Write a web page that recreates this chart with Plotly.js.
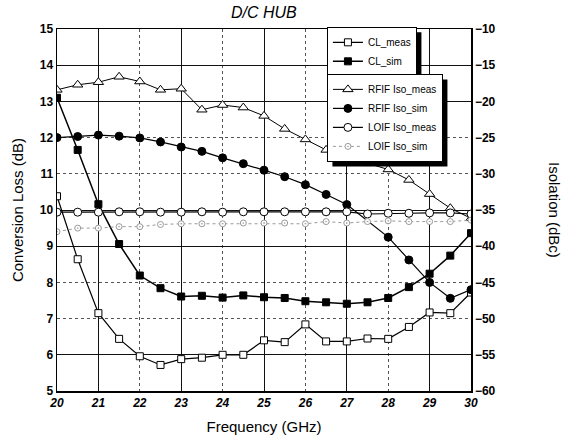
<!DOCTYPE html>
<html>
<head>
<meta charset="utf-8">
<script src="https://cdn.plot.ly/plotly-3.0.1.min.js"></script>
<style>body{margin:0;padding:0;background:#fff}#chart{width:576px;height:446px}</style>
</head>
<body>
<div id="chart"></div>
<script>
// Frequency points (GHz)
const freq = [20,20.5,21,21.5,22,22.5,23,23.5,24,24.5,25,25.5,26,26.5,27,27.5,28,28.5,29,29.5,30];
const freqRfifSim = [20,20.5,21,21.5,22,22.5,23,23.5,24,24.5,25,25.5,26,26.5,27,28,28.5,29,29.5,30];

// Conversion loss (dB), left axis
const clMeas = [10.38,8.64,7.15,6.44,5.96,5.72,5.88,5.92,6.0,6.0,6.4,6.35,6.84,6.37,6.37,6.45,6.44,6.77,7.17,7.15,7.72];
const clSim  = [13.1,11.66,10.16,9.06,8.19,7.84,7.61,7.63,7.58,7.64,7.59,7.57,7.48,7.45,7.41,7.45,7.57,7.87,8.24,8.74,9.36];

// Isolation (dBc), right axis
const rfifMeas = [-18.4,-17.7,-17.35,-16.6,-17.25,-18.4,-18.25,-21.15,-20.5,-20.85,-22.0,-23.8,-25.25,-26.7,-28.0,-28.55,-29.4,-30.85,-32.8,-34.75,-36.15];
const rfifSim  = [-25.0,-24.85,-24.65,-24.8,-25.05,-25.6,-26.3,-26.9,-27.8,-28.6,-29.5,-30.4,-31.5,-32.85,-34.25,-38.75,-41.9,-45.0,-47.2,-46.0];
const loifMeas = [-35.3,-35.3,-35.3,-35.25,-35.25,-35.3,-35.3,-35.25,-35.3,-35.25,-35.25,-35.25,-35.25,-35.25,-35.25,-35.55,-35.45,-35.45,-35.4,-35.4,-35.55];
const loifSim  = [-38.0,-37.5,-37.5,-37.3,-37.3,-37.0,-36.9,-36.9,-36.9,-36.8,-36.8,-36.8,-36.9,-36.6,-36.8,-36.6,-36.5,-36.6,-36.6,-36.6,-36.4];

// Axis ticks
const xTicks = [20,21,22,23,24,25,26,27,28,29,30];
const yLeftTicks = [5,6,7,8,9,10,11,12,13,14,15];
const yRightTicks = [-60,-55,-50,-45,-40,-35,-30,-25,-20,-15,-10];
const xSolidGrid = [21,23,25,27,29];
const ySolidGrid = [6,9,10,13,14];

const FONT = 'Liberation Sans, Arial, sans-serif';
const mk = (sym, fill, size, lc) => ({symbol: sym, size: size, color: fill, line: {color: lc || '#000', width: 1}});

const traces = [
  {x: freq, y: clMeas, name: 'CL_meas', mode: 'lines+markers', line: {color: '#000', width: 1.2},
   marker: mk('square', '#fff', 7), legend: 'legend', xaxis: 'x', yaxis: 'y'},
  {x: freq, y: clSim, name: 'CL_sim', mode: 'lines+markers', line: {color: '#000', width: 1.5},
   marker: mk('square', '#000', 7), legend: 'legend', xaxis: 'x', yaxis: 'y'},
  {x: freq, y: rfifMeas, name: 'RFIF Iso_meas', mode: 'lines+markers', line: {color: '#000', width: 1},
   marker: mk('triangle-up', '#fff', 9), legend: 'legend2', xaxis: 'x', yaxis: 'y2'},
  {x: freqRfifSim, y: rfifSim, name: 'RFIF Iso_sim', mode: 'lines+markers', line: {color: '#000', width: 1.2},
   marker: mk('circle', '#000', 8), legend: 'legend2', xaxis: 'x', yaxis: 'y2'},
  {x: freq, y: loifMeas, name: 'LOIF Iso_meas', mode: 'lines+markers', line: {color: '#000', width: 1.2},
   marker: mk('circle', '#fff', 8), legend: 'legend2', xaxis: 'x', yaxis: 'y2'},
  {x: freq, y: loifSim, name: 'LOIF Iso_sim', mode: 'lines+markers', line: {color: '#999', width: 1, dash: 'dot'},
   marker: mk('circle-dot', '#fff', 6, '#999'), legend: 'legend2', xaxis: 'x', yaxis: 'y2'},
  // carriers for the solid grid axes
  {x: [null], y: [null], xaxis: 'x3', yaxis: 'y', showlegend: false, hoverinfo: 'skip'},
  {x: [null], y: [null], xaxis: 'x', yaxis: 'y3', showlegend: false, hoverinfo: 'skip'}
];

const tickFont = {family: FONT, size: 12, color: '#000', weight: 'bold'};
const legFont = {family: FONT, size: 10, color: '#000'};

const layout = {
  width: 576, height: 446,
  margin: {l: 57, r: 105, t: 29, b: 55},
  paper_bgcolor: '#fff', plot_bgcolor: '#fff',
  font: {family: FONT, color: '#000'},
  title: {text: '<i>D/C HUB</i>', font: {family: FONT, size: 16, color: '#000'}, x: 0.458, xanchor: 'center', y: 0.972, yanchor: 'middle'},
  xaxis: {range: [20, 30], tickvals: xTicks, ticktext: xTicks.map(v => '<i>' + v + '</i>'), tickfont: tickFont,
    showgrid: true, gridcolor: '#555', griddash: 'dot', gridwidth: 1, zeroline: false,
    showline: true, linecolor: '#000', linewidth: 1.5, mirror: true, ticks: '', ticklen: 0,
    title: {text: 'Frequency (GHz)', font: {family: FONT, size: 15, color: '#000'}, standoff: 12}},
  xaxis3: {range: [20, 30], overlaying: 'x', tickvals: xSolidGrid, showticklabels: false,
    showgrid: true, gridcolor: '#111', gridwidth: 1, zeroline: false, showline: false, ticks: ''},
  yaxis: {range: [5, 15], tickvals: yLeftTicks, tickfont: tickFont,
    showgrid: true, gridcolor: '#555', griddash: 'dot', gridwidth: 1, zeroline: false,
    showline: true, linecolor: '#000', linewidth: 1.5, mirror: true, ticks: '',
    title: {text: 'Conversion Loss (dB)', font: {family: FONT, size: 15, color: '#000'}, standoff: 12}},
  yaxis3: {range: [5, 15], overlaying: 'y', tickvals: ySolidGrid, showticklabels: false,
    showgrid: true, gridcolor: '#111', gridwidth: 1, zeroline: false, showline: false, ticks: ''},
  yaxis2: {range: [-60, -10], tickvals: yRightTicks, tickfont: tickFont, overlaying: 'y', side: 'right',
    showgrid: false, zeroline: false, showline: true, linecolor: '#000', linewidth: 1.5, ticks: ''},
  legend: {x: 0.652, y: 1.006, xanchor: 'left', yanchor: 'top', bgcolor: '#fff', bordercolor: '#000', borderwidth: 1,
    font: legFont, tracegroupgap: 0, itemwidth: 30},
  legend2: {x: 0.652, y: 0.876, xanchor: 'left', yanchor: 'top', bgcolor: '#fff', bordercolor: '#000', borderwidth: 1,
    font: legFont, tracegroupgap: 0, itemwidth: 30},
  annotations: [
    {text: 'Isolation (dBc)', textangle: 90, xref: 'paper', yref: 'paper', x: 1.203, y: 0.5,
     showarrow: false, font: {family: FONT, size: 15, color: '#000'}, xanchor: 'center', yanchor: 'middle'}
  ],
  showlegend: true
};

const gd = document.getElementById('chart');
Plotly.newPlot(gd, traces, layout, {displayModeBar: false, staticPlot: true}).then(() => {
  // drop shadows behind the two legend boxes, sized from the rendered legends
  const fl = gd._fullLayout, sz = fl._size;
  const cr = gd.getBoundingClientRect();
  const shapes = [];
  ['legend', 'legend2'].forEach(k => {
    let left, top, w, h;
    const L = fl[k];
    const el = gd.querySelector('g.' + k + ' > rect.bg') || gd.querySelector('g.' + k);
    if (el) {
      const b = el.getBoundingClientRect();
      left = b.left - cr.left; top = b.top - cr.top; w = b.width; h = b.height;
    }
    if ((!w || w < 20) && L && L._width) {
      w = L._width; h = L._effHeight || L._height;
      left = sz.l + L.x * sz.w; top = sz.t + (1 - L.y) * sz.h;
    }
    if (!w || w < 20) return;
    left += 5; top += 5;
    shapes.push({type: 'rect', xref: 'paper', yref: 'paper', layer: 'above',
      x0: (left - sz.l) / sz.w, x1: (left + w - sz.l) / sz.w,
      y0: 1 - (top - sz.t) / sz.h, y1: 1 - (top + h - sz.t) / sz.h,
      fillcolor: '#000', line: {width: 0}});
  });
  if (shapes.length) return Plotly.relayout(gd, {shapes: shapes});
});
</script>
</body>
</html>
